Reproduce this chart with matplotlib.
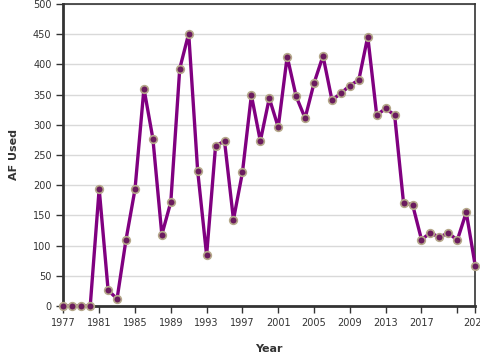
import matplotlib
matplotlib.use("Agg")
import matplotlib.pyplot as plt

years = list(range(1977, 2024))
af_used = [0, 0, 0, 0, 194, 26, 12, 110, 193, 360,
           277, 118, 172, 393, 451, 224, 84, 265, 273, 143,
           221, 349, 273, 344, 296, 413, 347, 311, 369, 414,
           341, 352, 365, 374, 446, 316, 327, 316, 170, 168,
           110, 121, 114, 121, 109, 155, 67]

xticks = [1977, 1981, 1985, 1989, 1993, 1997, 2001, 2005, 2009, 2013, 2017, 2021, 2023]
xlabels = ["1977", "1981", "1985", "1989", "1993", "1997", "2001", "2005", "2009", "2013", "2017", "", "2023"]

fig = plt.figure(figsize=(4.8, 3.6), dpi=100)
ax = fig.add_axes([0.132, 0.15, 0.858, 0.839])

ax.plot(years, af_used, color="#800080", linewidth=2.4, marker="o", markersize=5.5,
        markerfacecolor="#6a1b5e", markeredgecolor="#b5a88a", markeredgewidth=1.2,
        clip_on=False, zorder=3)

ax.set_xlim(1977, 2023)
ax.set_ylim(0, 500)
ax.set_yticks(range(0, 501, 50))
ax.set_xticks(xticks)
ax.set_xticklabels(xlabels)
ax.grid(axis="y", color="#d9d9d9", linewidth=1)
ax.set_axisbelow(True)

for side in ["left", "bottom"]:
    ax.spines[side].set_linewidth(2)
    ax.spines[side].set_color("#333333")
for side in ["top", "right"]:
    ax.spines[side].set_linewidth(1.2)
    ax.spines[side].set_color("#333333")

ax.tick_params(axis="both", labelsize=7, colors="#333333", length=5, width=1)
ax.tick_params(axis="x", pad=4)
ax.set_xlabel("Year", fontsize=8, fontweight="bold", color="#333333", labelpad=11)
ax.set_ylabel("AF Used", fontsize=8, fontweight="bold", color="#333333", labelpad=10)

fig.savefig("out.png", dpi=100)
